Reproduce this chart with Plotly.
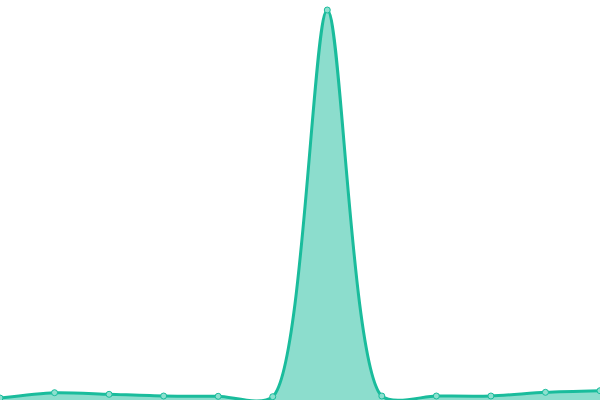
import plotly.graph_objects as go

# point index along the x axis
x_index = list(range(12))
# values (pixels above the bottom edge, 400 = top)
values = [2.0, 7.3, 5.7, 4.0, 3.7, 3.3, 390.0, 4.0, 4.0, 4.0, 7.7, 9.3]

LINE = "#1abc9c"
FILL = "rgba(26,188,156,0.5)"

fig = go.Figure()
fig.add_trace(
    go.Scatter(
        x=x_index,
        y=values,
        mode="lines+markers",
        line={"color": LINE, "width": 3, "shape": "spline", "smoothing": 0.75},
        marker={"size": 6, "color": "#8de0cf", "line": {"color": LINE, "width": 1}},
        fill="tozeroy",
        fillcolor=FILL,
        hoverinfo="skip",
    )
)

fig.update_layout(
    width=600,
    height=400,
    margin={"l": 0, "r": 0, "t": 0, "b": 0},
    paper_bgcolor="white",
    plot_bgcolor="white",
    showlegend=False,
)
fig.update_xaxes(range=[0, 11], visible=False)
fig.update_yaxes(range=[0, 400], visible=False)

# the page body has an 8px default margin, drop it so the chart fills the window
fig.write_html(
    "out.html",
    config={"displayModeBar": False},
    post_script="document.body.style.margin = '0';",
)
